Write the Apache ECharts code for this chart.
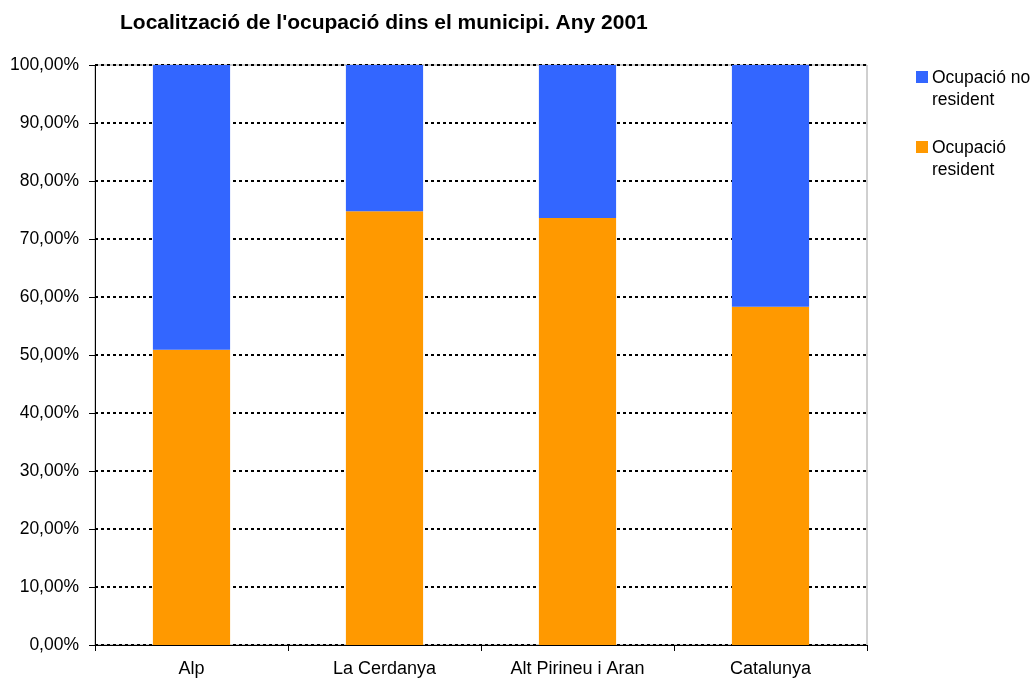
<!DOCTYPE html>
<html>
<head>
<meta charset="utf-8">
<script src="https://cdn.jsdelivr.net/npm/echarts@6/dist/echarts.min.js"></script>
<style>html,body{margin:0;padding:0;background:#fff}#c{width:1036px;height:680px}</style>
</head>
<body>
<div id="c"></div>
<script>
var categories = ['Alp', 'La Cerdanya', 'Alt Pirineu i Aran', 'Catalunya'];
var resident = [50.9, 74.8, 73.6, 58.3];
var noResident = [49.1, 25.2, 26.4, 41.7];
var seriesNames = ['Ocupació no resident', 'Ocupació resident'];
var titleText = "Localització de l'ocupació dins el municipi. Any 2001";

var FONT = 'Liberation Sans, Arial, sans-serif';
var chart = echarts.init(document.getElementById('c'));
var iconPath = 'path://M0,0L10,0L10,10L0,10Z M0,29.9L0.01,29.9L0.01,30L0,30Z';
chart.setOption({
  animation: false,
  backgroundColor: '#fff',
  title: {
    text: titleText,
    left: 115, top: 8,
    textStyle: { fontFamily: FONT, fontSize: 21, fontWeight: 'bold', color: '#000' }
  },
  legend: {
    orient: 'vertical',
    left: 911, top: 62,
    padding: 5,
    itemWidth: 12, itemHeight: 36,
    itemGap: 26,
    data: [
      { name: seriesNames[0], icon: iconPath },
      { name: seriesNames[1], icon: iconPath }
    ],
    formatter: function (n) { return n === seriesNames[0] ? 'Ocupació no\nresident' : 'Ocupació\nresident'; },
    textStyle: { fontFamily: FONT, fontSize: 17.5, color: '#000', lineHeight: 22, padding: [0, 0, 0, -1] },
    itemStyle: { borderWidth: 0 }
  },
  grid: {
    left: 95, right: 169, top: 65, bottom: 35,
    show: true, borderColor: '#a0a0a0', borderWidth: 1, backgroundColor: '#fff'
  },
  xAxis: {
    type: 'category',
    data: categories,
    boundaryGap: true,
    axisLine: { lineStyle: { color: '#000', width: 1 } },
    axisTick: { show: true, length: 6, lineStyle: { color: '#000' } },
    axisLabel: { fontFamily: FONT, fontSize: 18, color: '#000', margin: 15 }
  },
  yAxis: {
    type: 'value',
    min: 0, max: 100, interval: 10,
    axisLine: { show: true, lineStyle: { color: '#000', width: 1 } },
    axisTick: { show: true, length: 6, lineStyle: { color: '#000' } },
    axisLabel: {
      fontFamily: FONT, fontSize: 17.5, color: '#000', margin: 16,
      formatter: function (v) { return v.toFixed(2).replace('.', ',') + '%'; }
    },
    splitLine: { lineStyle: { color: '#000', width: 2, type: [3, 3] } }
  },
  series: [
    {
      name: seriesNames[1], type: 'bar', stack: 's', data: resident,
      barWidth: '40%', itemStyle: { color: '#ff9900' }
    },
    {
      name: seriesNames[0], type: 'bar', stack: 's', data: noResident,
      barWidth: '40%', itemStyle: { color: '#3366ff' }
    }
  ]
});
</script>
</body>
</html>
